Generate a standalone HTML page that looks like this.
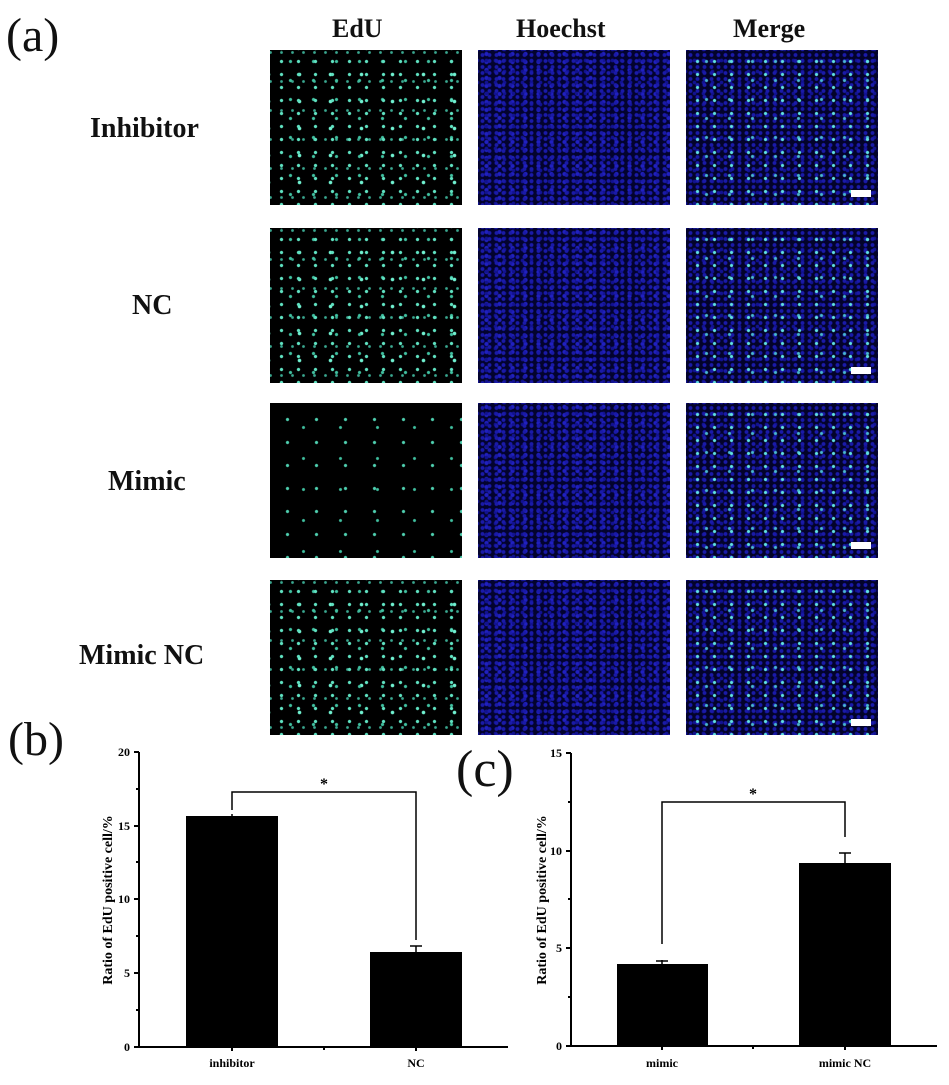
<!DOCTYPE html>
<html><head><meta charset="utf-8"><style>
body{margin:0;width:949px;height:1085px;background:#fff;position:relative;overflow:hidden;font-family:"Liberation Serif",serif}
.t{position:absolute;font-weight:bold;color:#111;white-space:nowrap}
.lab{position:absolute;font-size:48px;color:#111}
.p{position:absolute;width:192px;height:155px;background-color:#000}
.e{background-image:
radial-gradient(circle,#5fe0c0 1.3px,transparent 2px),
radial-gradient(circle,#40c0a0 1.2px,transparent 2px),
radial-gradient(circle,#70f0d0 1.4px,transparent 2.2px),
radial-gradient(circle,#3aa890 1px,transparent 1.8px);
background-size:17px 13px,23px 19px,31px 27px,11px 29px;
background-position:3px 5px,9px 2px,14px 11px,6px 17px}
.e2{background-image:
radial-gradient(circle,#4fd0b0 1.2px,transparent 2px),
radial-gradient(circle,#40c0a0 1.1px,transparent 1.9px);
background-size:29px 23px,37px 31px;background-position:3px 5px,15px 9px}
.h{background-color:#03032e;background-image:
radial-gradient(circle,#1a1aa8 1.5px,transparent 2.4px),
radial-gradient(circle,#121290 1.4px,transparent 2.3px),
radial-gradient(circle,#2020c0 1.6px,transparent 2.6px);
background-size:7px 6px,9px 11px,13px 8px;background-position:1px 2px,4px 5px,2px 0}
.m{background-color:#03032a;background-image:
radial-gradient(circle,#60e0e0 1.2px,transparent 2px),
radial-gradient(circle,#48b8d0 1.1px,transparent 2px),
radial-gradient(circle,#1a1aa8 1.5px,transparent 2.4px),
radial-gradient(circle,#121290 1.4px,transparent 2.3px);
background-size:17px 13px,23px 19px,7px 6px,9px 11px;
background-position:3px 5px,9px 2px,1px 2px,4px 5px}
.sb{position:absolute;background:#fff;width:20px;height:7px}
</style></head><body>
<div class="lab" style="left:6px;top:8px">(a)</div>
<div class="t" style="left:332px;top:14px;font-size:26px">EdU</div>
<div class="t" style="left:516px;top:14px;font-size:26px">Hoechst</div>
<div class="t" style="left:733px;top:14px;font-size:26px">Merge</div>
<div class="t" style="left:90px;top:113px;font-size:28px">Inhibitor</div>
<div class="t" style="left:132px;top:290px;font-size:28px">NC</div>
<div class="t" style="left:108px;top:466px;font-size:28px">Mimic</div>
<div class="t" style="left:79px;top:640px;font-size:28px">Mimic NC</div>

<div class="p e" style="left:270px;top:50px"></div><div class="p h" style="left:478px;top:50px"></div><div class="p m" style="left:686px;top:50px"></div>
<div class="p e" style="left:270px;top:228px"></div><div class="p h" style="left:478px;top:228px"></div><div class="p m" style="left:686px;top:228px"></div>
<div class="p e2" style="left:270px;top:403px"></div><div class="p h" style="left:478px;top:403px"></div><div class="p m" style="left:686px;top:403px"></div>
<div class="p e" style="left:270px;top:580px"></div><div class="p h" style="left:478px;top:580px"></div><div class="p m" style="left:686px;top:580px"></div>
<div class="sb" style="left:851px;top:190px"></div>
<div class="sb" style="left:851px;top:367px"></div>
<div class="sb" style="left:851px;top:542px"></div>
<div class="sb" style="left:851px;top:719px"></div>

<div class="lab" style="left:8px;top:712px">(b)</div>
<div class="lab" style="left:456px;top:740px;font-size:52px">(c)</div>

<svg width="949" height="1085" style="position:absolute;left:0;top:0" font-family="Liberation Serif" font-weight="bold" font-size="12">
<g stroke="#000" stroke-width="2" fill="none">
<path d="M139 752V1047H508"/>
<path d="M134 752h5M134 826h5M134 899h5M134 973h5M134 1047h5M136 789h3M136 862h3M136 936h3M136 1010h3M232 1047v4M416 1047v4M324 1047v3"/>
<path d="M232 810V792H416V940" stroke-width="1.5"/>
<path d="M571 753V1046H937"/>
<path d="M566 753h5M566 851h5M566 948h5M566 1046h5M568 802h3M568 899h3M568 997h3M662 1046v4M845 1046v4M753 1046v3"/>
<path d="M662 944V802H845V837" stroke-width="1.5"/>
<path d="M232 816v-2M416 952v-6M410 946h12M662 964v-4M656 961h12M845 863v-10M839 853h12" stroke-width="1.5"/>
</g>
<rect x="186" y="816" width="92" height="231" fill="#000"/>
<rect x="370" y="952" width="92" height="95" fill="#000"/>
<rect x="617" y="964" width="91" height="82" fill="#000"/>
<rect x="799" y="863" width="92" height="183" fill="#000"/>
<g text-anchor="end">
<text x="130" y="756">20</text><text x="130" y="830">15</text><text x="130" y="903">10</text><text x="130" y="977">5</text><text x="130" y="1051">0</text>
<text x="562" y="757">15</text><text x="562" y="855">10</text><text x="562" y="952">5</text><text x="562" y="1050">0</text>
</g>
<g text-anchor="middle">
<text x="232" y="1067">inhibitor</text><text x="416" y="1067">NC</text>
<text x="662" y="1067">mimic</text><text x="845" y="1067">mimic NC</text>
<text x="324" y="789" font-size="16">*</text><text x="753" y="799" font-size="16">*</text>
<text transform="translate(112 900) rotate(-90)" font-size="14">Ratio of EdU positive cell/%</text>
<text transform="translate(546 900) rotate(-90)" font-size="14">Ratio of EdU positive cell/%</text>
</g>
</svg>
</body></html>
